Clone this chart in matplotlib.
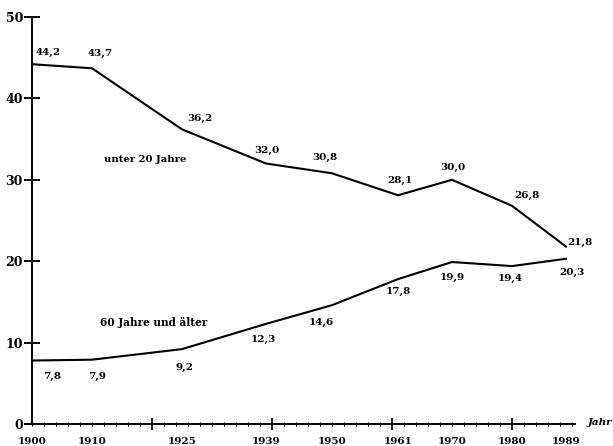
import matplotlib.pyplot as plt
from matplotlib.ticker import MultipleLocator

years = [1900, 1910, 1925, 1939, 1950, 1961, 1970, 1980, 1989]
under20 = [44.2, 43.7, 36.2, 32.0, 30.8, 28.1, 30.0, 26.8, 21.8]
over60 = [7.8, 7.9, 9.2, 12.3, 14.6, 17.8, 19.9, 19.4, 20.3]
under20_name = "unter 20 Jahre"
over60_name = "60 Jahre und älter"

# label offsets in pixels (dx, dy) from the point
off_u = [(16, 12), (8, 15), (18, 11), (1, 13), (-7, 16), (2, 15), (1, 12), (15, 10), (14, 4)]
off_o = [(20, -16), (5, -17), (3, -18), (-3, -16), (-11, -17), (0, -12), (0, -15), (-2, -12), (6, -14)]

plt.rcParams['font.family'] = ['DejaVu Serif']
fnt = dict(fontsize=7.5, fontweight='bold')

fig = plt.figure(figsize=(6.13, 4.46), dpi=100)
ax = fig.add_axes([32 / 613, 22 / 446, (575 - 32) / 613, (424 - 17) / 446])

ax.plot(years, under20, color='black', lw=1.5)
ax.plot(years, over60, color='black', lw=1.5)

px = 72 / 100
for x, y, (dx, dy) in zip(years, under20, off_u):
    ax.annotate(f"{y:.1f}".replace('.', ','), (x, y), xytext=(dx * px, dy * px),
                textcoords='offset points', ha='center', va='center', **fnt)
for x, y, (dx, dy) in zip(years, over60, off_o):
    ax.annotate(f"{y:.1f}".replace('.', ','), (x, y), xytext=(dx * px, dy * px),
                textcoords='offset points', ha='center', va='center', **fnt)

ax.text(1912, 32.5, under20_name, ha='left', va='center', fontsize=7.2, fontweight='bold')
ax.text(1911.3, 12.5, over60_name, ha='left', va='center', fontsize=7.6, fontweight='bold')

ax.set_xlim(1900, 1990.5)
ax.set_ylim(0, 50)
for s in ['top', 'right']:
    ax.spines[s].set_visible(False)
ax.spines['left'].set_linewidth(1.4)
ax.spines['bottom'].set_linewidth(1.4)

ax.set_yticks([0, 10, 20, 30, 40, 50])
ax.tick_params(axis='y', direction='inout', length=11, width=1.4, labelsize=9, pad=1)
for lab in ax.get_yticklabels():
    lab.set_fontweight('bold')

ax.xaxis.set_minor_locator(MultipleLocator(2))
ax.set_xticks([1920, 1940, 1960, 1980])
ax.tick_params(axis='x', which='major', direction='inout', length=9, width=1.2, labelbottom=False)
ax.tick_params(axis='x', which='minor', direction='inout', length=3, width=0.8)

for yr in years:
    ax.annotate(str(yr), (yr, 0), xytext=(0, -12.5), textcoords='offset points',
                ha='center', va='center', annotation_clip=False, **fnt)
ax.annotate("Jahr", (1990.5, 0), xytext=(18, 1), textcoords='offset points',
            ha='center', va='center', fontsize=7.5, fontweight='bold', style='italic',
            annotation_clip=False)

fig.savefig('out.png', dpi=100)
